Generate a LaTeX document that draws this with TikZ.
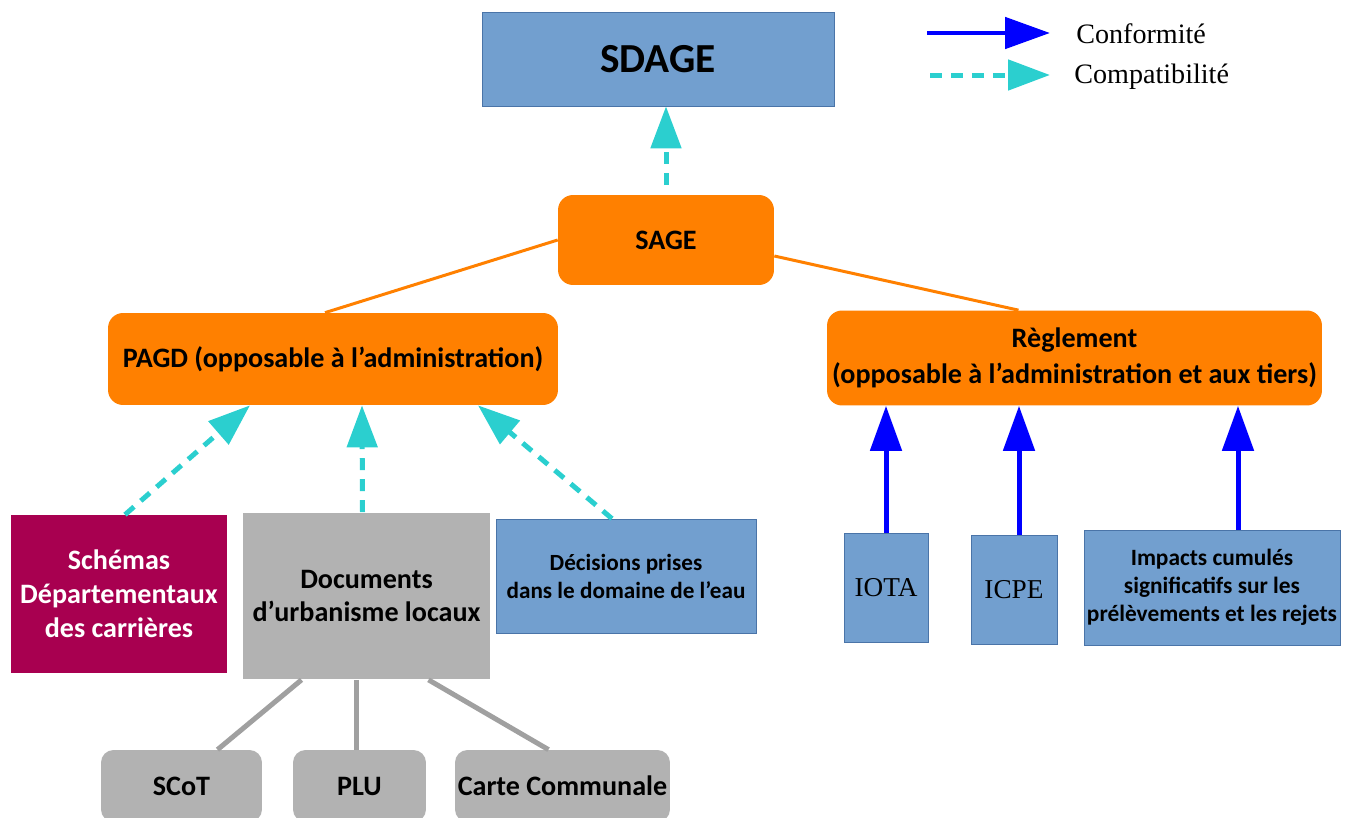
\documentclass[tikz,border=0pt]{standalone}
\usepackage{fontspec}
\setmainfont{Carlito}
\newfontfamily\legendfont{Liberation Serif}
\usetikzlibrary{arrows.meta}
\usetikzlibrary{calc}

\definecolor{boxblue}{RGB}{114,159,207}
\definecolor{boxedge}{RGB}{74,116,168}
\definecolor{sageorange}{RGB}{255,128,0}
\definecolor{carmine}{RGB}{168,0,80}
\definecolor{docgray}{RGB}{178,178,178}
\definecolor{linkgray}{RGB}{160,160,160}
\definecolor{compcyan}{RGB}{43,207,207}
\definecolor{confblue}{RGB}{0,0,255}

\tikzset{
  bluebox/.style={draw=boxedge,fill=boxblue,align=center,inner sep=0pt},
  orangebox/.style={fill=sageorange,rounded corners=0.3cm,align=center,inner sep=0pt,font=\bfseries},
  graybox/.style={fill=docgray,align=center,inner sep=0pt,font=\bfseries},
  leafbox/.style={fill=docgray,rounded corners=0.25cm,align=center,inner sep=0pt,font=\fontsize{16}{19}\selectfont\bfseries,minimum height=1.44cm},
  conflink/.style={confblue,line width=0.1cm,-{Triangle[length=0.9cm,width=0.62cm]}},
  complink/.style={compcyan,line width=0.1cm,dash pattern=on 0.24cm off 0.18cm,-{Triangle[length=0.84cm,width=0.6cm]}},
  orangelink/.style={sageorange,line width=0.06cm},
  graylink/.style={linkgray,line width=0.1cm}
}

\begin{document}
\begin{tikzpicture}[x=0.02cm,y=-0.02cm]
\useasboundingbox (0,0) rectangle (1347,818);

\node[bluebox,minimum width=7.04cm,minimum height=1.88cm,font=\fontsize{23.5}{27}\selectfont\bfseries] (sdage) at (658,59) {SDAGE};
\node[orangebox,minimum width=4.32cm,minimum height=1.8cm,font=\fontsize{16}{19}\selectfont\bfseries] (sage) at (666,240) {SAGE};
\node[orangebox,minimum width=9cm,minimum height=1.84cm,font=\fontsize{16}{19}\selectfont\bfseries] (pagd) at (333,359) {PAGD (opposable à l’administration)};
\node[orangebox,minimum width=9.9cm,minimum height=1.9cm,font=\fontsize{16}{20.5}\selectfont\bfseries] (reglement) at (1074.5,358) {Règlement\\(opposable à l’administration et aux tiers)};

\node[fill=carmine,text=white,align=center,inner sep=0pt,minimum width=4.32cm,minimum height=3.16cm,font=\fontsize{16}{19.3}\selectfont\bfseries] (schemas) at (119,594) {Schémas\\Départementaux\\des carrières};
\node[graybox,minimum width=4.94cm,minimum height=3.34cm,font=\fontsize{16}{19.3}\selectfont\bfseries] (docs) at (366.5,596) {Documents\\d’urbanisme locaux};
\node[bluebox,minimum width=5.2cm,minimum height=2.28cm,font=\fontsize{13.2}{16}\selectfont\bfseries] (decisions) at (626,576) {Décisions prises\\dans le domaine de l’eau};

\node[bluebox,minimum width=1.68cm,minimum height=2.18cm,font=\legendfont\fontsize{15.5}{18}\selectfont] (iota) at (886,587.5) {IOTA};
\node[bluebox,minimum width=1.72cm,minimum height=2.18cm,font=\legendfont\fontsize{15.5}{18}\selectfont] (icpe) at (1014,589.5) {ICPE};
\node[bluebox,minimum width=5.12cm,minimum height=2.3cm,font=\fontsize{13.3}{16}\selectfont\bfseries] (impacts) at (1212,587.5) {Impacts cumulés\\significatifs sur les\\prélèvements et les rejets};

\node[leafbox,minimum width=3.22cm] (scot) at (181.5,786) {SCoT};
\node[leafbox,minimum width=2.66cm] (plu) at (359.5,786) {PLU};
\node[leafbox,minimum width=4.3cm] (carte) at (562.5,786) {Carte Communale};

\draw[complink,shorten <=0.2cm] (sage.north) -- (sage.north |- sdage.south);
\draw[orangelink] (sage.west) -- ($(pagd.north)+(-8,0)$);
\draw[orangelink] ($(sage.east)+(0,16)$) -- ($(reglement.north)+(-56,0)$);

\draw[complink] ($(schemas.north)+(6,0)$) -- ($(pagd.south)+(-83,0)$);
\draw[complink] ($(docs.north)+(-4,0)$) -- ($(pagd.south)+(29,0)$);
\draw[complink] ($(decisions.north)+(-14,0)$) -- ($(pagd.south)+(145,0)$);

\draw[conflink] (iota.north) -- (iota.north |- reglement.south);
\draw[conflink] ($(icpe.north)+(5,0)$) -- ($(icpe.north |- reglement.south)+(5,0)$);
\draw[conflink] ($(impacts.north)+(26,0)$) -- ($(impacts.north |- reglement.south)+(26,0)$);

\draw[graylink] ($(docs.south)+(-65,0)$) -- ($(scot.north)+(36,0)$);
\draw[graylink] ($(docs.south)+(-10,0)$) -- ($(plu.north)+(-3,0)$);
\draw[graylink] ($(docs.south)+(62,0)$) -- ($(carte.north)+(-14,0)$);

% legende
\coordinate (confa) at (927,33);
\coordinate (confb) at (1050,33);
\coordinate (compa) at (930,75);
\coordinate (compb) at (1050,75);
\draw[conflink] (confa) -- (confb);
\draw[complink] (compa) -- (compb);
\node[anchor=west,inner sep=0pt,font=\legendfont\fontsize{16}{19}\selectfont] (conftext) at (1076,34) {Conformité};
\node[anchor=west,inner sep=0pt,font=\legendfont\fontsize{16}{19}\selectfont] (comptext) at (1074,77) {Compatibilité};

\end{tikzpicture}
\end{document}
